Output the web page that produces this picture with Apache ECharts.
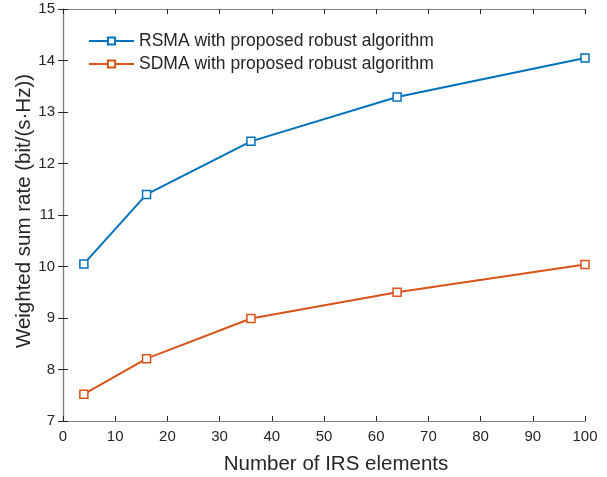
<!DOCTYPE html>
<html><head><meta charset="utf-8">
<script src="https://cdn.jsdelivr.net/npm/echarts@6/dist/echarts.min.js"></script>
<style>html,body{margin:0;padding:0;background:#fff}#c{width:607px;height:477px}</style>
</head><body><div id="c"></div>
<script>
const irsElements = [4, 16, 36, 64, 100];
const rsmaRate = [10.05, 11.40, 12.43, 13.29, 14.05];
const sdmaRate = [7.52, 8.21, 8.99, 9.50, 10.04];
const seriesNames = ['RSMA with proposed robust algorithm', 'SDMA with proposed robust algorithm'];
const xTitle = 'Number of IRS elements';
const yTitle = 'Weighted sum rate (bit/(s\u00B7Hz))';

const font = 'Liberation Sans, Arial, Helvetica, sans-serif';
const axisCol = '#262626';
const boxCol = '#808080';
const chart = echarts.init(document.getElementById('c'), null, {renderer: 'canvas'});
const mkSeries = (name, data, col) => ({
  name, type: 'line', data: irsElements.map((x, i) => [x, data[i]]),
  symbol: 'rect', symbolSize: 8, showAllSymbol: true,
  lineStyle: {color: col, width: 2},
  itemStyle: {color: '#fff', borderColor: col, borderWidth: 1.5},
  emphasis: {disabled: true}
});
const commonTick = {show: true, inside: true, length: 5, lineStyle: {color: axisCol, width: 1}};
chart.setOption({
  animation: false,
  grid: {left: 63, right: 22, top: 9, bottom: 56, containLabel: false, outerBoundsMode: 'none'},
  legend: {
    left: 83, top: 27, orient: 'vertical', itemGap: 5, itemWidth: 45, itemHeight: 9,
    textStyle: {fontFamily: font, fontSize: 17.5, lineHeight: 18, color: axisCol},
    data: seriesNames
  },
  xAxis: [{
    type: 'value', min: 0, max: 100, interval: 10,
    name: xTitle, nameLocation: 'middle', nameGap: 33, nameMoveOverlap: false,
    nameTextStyle: {fontFamily: font, fontSize: 20.5, color: axisCol, padding: [0, 0, 0, 24]},
    axisLine: {show: true, lineStyle: {color: boxCol, width: 1.2}},
    axisTick: commonTick, splitLine: {show: false},
    axisLabel: {fontFamily: font, fontSize: 15, color: axisCol, margin: 8}
  }, {
    type: 'value', position: 'top', min: 0, max: 100, interval: 10,
    axisLine: {show: true, lineStyle: {color: boxCol, width: 1.2}},
    axisTick: commonTick, axisLabel: {show: false}, splitLine: {show: false}
  }],
  yAxis: [{
    type: 'value', min: 7, max: 15, interval: 1,
    name: yTitle, nameLocation: 'middle', nameGap: 28, nameMoveOverlap: false,
    nameTextStyle: {fontFamily: font, fontSize: 20.5, color: axisCol, padding: [0, 0, 0, 8]},
    axisLine: {show: true, lineStyle: {color: boxCol, width: 1.2}},
    axisTick: commonTick, splitLine: {show: false},
    axisLabel: {fontFamily: font, fontSize: 15, color: axisCol, margin: 8}
  }, {
    type: 'value', position: 'right', min: 7, max: 15, interval: 1,
    axisLine: {show: true, lineStyle: {color: boxCol, width: 1.2}},
    axisTick: commonTick, axisLabel: {show: false}, splitLine: {show: false}
  }],
  series: [
    mkSeries(seriesNames[0], rsmaRate, '#0072BD'),
    mkSeries(seriesNames[1], sdmaRate, '#D95319')
  ]
});
</script></body></html>
